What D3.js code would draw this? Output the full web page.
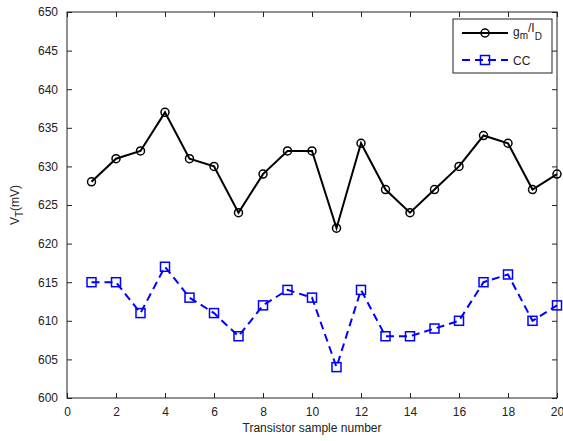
<!DOCTYPE html>
<html>
<head>
<meta charset="utf-8">
<script src="https://cdn.jsdelivr.net/npm/d3@7"></script>
<style>
  body { margin: 0; background: #fff; }
  svg text { font-family: "Liberation Sans", Arial, sans-serif; font-size: 12px; fill: #222; }
</style>
</head>
<body>
<div id="G"></div>
<script>
// data
var samples = [1, 2, 3, 4, 5, 6, 7, 8, 9, 10, 11, 12, 13, 14, 15, 16, 17, 18, 19, 20];
var gmId = [628, 631, 632, 637, 631, 630, 624, 629, 632, 632, 622, 633, 627, 624, 627, 630, 634, 633, 627, 629];
var cc = [615, 615, 611, 617, 613, 611, 608, 612, 614, 613, 604, 614, 608, 608, 609, 610, 615, 616, 610, 612];
var xTicks = [0, 2, 4, 6, 8, 10, 12, 14, 16, 18, 20];
var yTicks = [600, 605, 610, 615, 620, 625, 630, 635, 640, 645, 650];

var Border = { top: 12, right: 6, bottom: 43, left: 67 },
  width = 563 - Border.left - Border.right,
  height = 441 - Border.top - Border.bottom;

var svg = d3.select("#G")
  .append("svg")
  .attr("width", 563)
  .attr("height", 441)
  .append("g")
  .attr("transform", "translate(" + Border.left + "," + Border.top + ")");

var x = d3.scaleLinear().domain([0, 20]).range([0, width]);
var y = d3.scaleLinear().domain([600, 650]).range([height, 0]);

// axes, ticks pointing inwards (box style)
function styleAxis(g, hideText) {
  g.select(".domain").remove();
  g.selectAll(".tick line").attr("stroke", "#222");
  if (hideText) g.selectAll(".tick text").remove();
}
svg.append("g")
  .attr("transform", "translate(0," + height + ")")
  .call(d3.axisBottom(x).tickValues(xTicks).tickSizeInner(-5).tickPadding(9))
  .call(function (g) { styleAxis(g, false); g.selectAll("text").attr("font-size", 13).attr("fill", "#222"); });
svg.append("g")
  .call(d3.axisTop(x).tickValues(xTicks).tickSizeInner(-5))
  .call(function (g) { styleAxis(g, true); });
svg.append("g")
  .call(d3.axisLeft(y).tickValues(yTicks).tickSizeInner(-5).tickPadding(9))
  .call(function (g) { styleAxis(g, false); g.selectAll("text").attr("font-size", 13).attr("fill", "#222"); });
svg.append("g")
  .attr("transform", "translate(" + width + ",0)")
  .call(d3.axisRight(y).tickValues(yTicks).tickSizeInner(-5))
  .call(function (g) { styleAxis(g, true); });

svg.append("rect")
  .attr("width", width).attr("height", height)
  .attr("fill", "none").attr("stroke", "#222").attr("stroke-width", 1);

// black series with circles
var line = d3.line()
  .x(function (d, i) { return x(samples[i]) })
  .y(function (d) { return y(d) });

svg.append("path")
  .datum(gmId)
  .attr("fill", "none").attr("stroke", "#000").attr("stroke-width", 2)
  .attr("d", line);
svg.selectAll(".c")
  .data(gmId).enter().append("circle")
  .attr("cx", function (d, i) { return x(samples[i]) })
  .attr("cy", function (d) { return y(d) })
  .attr("r", 4)
  .attr("fill", "none").attr("stroke", "#000").attr("stroke-width", 1.5);

// blue dashed series with squares
svg.append("path")
  .datum(cc)
  .attr("fill", "none").attr("stroke", "#0000ff").attr("stroke-width", 2)
  .attr("stroke-dasharray", "8,5")
  .attr("d", line);
svg.selectAll(".s")
  .data(cc).enter().append("rect")
  .attr("x", function (d, i) { return x(samples[i]) - 4.5 })
  .attr("y", function (d) { return y(d) - 4.5 })
  .attr("width", 9).attr("height", 9)
  .attr("fill", "none").attr("stroke", "#0000ff").attr("stroke-width", 1.5);

// axis labels
svg.append("text")
  .attr("x", width / 2).attr("y", height + 34)
  .attr("text-anchor", "middle").attr("font-size", 13)
  .text("Transistor sample number");

var yl = svg.append("text")
  .attr("transform", "translate(" + (-48) + "," + (height / 2) + ") rotate(-90)")
  .attr("text-anchor", "middle").attr("font-size", 13);
yl.append("tspan").text("V");
yl.append("tspan").attr("dy", 4).attr("font-size", 10).text("T");
yl.append("tspan").attr("dy", -4).text("(mV)");

// legend
var lg = svg.append("g").attr("transform", "translate(" + (453 - Border.left) + "," + (19 - Border.top) + ")");
lg.append("rect").attr("width", 99).attr("height", 54)
  .attr("fill", "#fff").attr("stroke", "#222");
lg.append("line").attr("x1", 9).attr("x2", 55).attr("y1", 14).attr("y2", 14)
  .attr("stroke", "#000").attr("stroke-width", 2);
lg.append("circle").attr("cx", 32).attr("cy", 14).attr("r", 4)
  .attr("fill", "none").attr("stroke", "#000").attr("stroke-width", 1.5);
lg.append("line").attr("x1", 9).attr("x2", 55).attr("y1", 41).attr("y2", 41)
  .attr("stroke", "#0000ff").attr("stroke-width", 2).attr("stroke-dasharray", "8,5");
lg.append("rect").attr("x", 27.5).attr("y", 36.5).attr("width", 9).attr("height", 9)
  .attr("fill", "none").attr("stroke", "#0000ff").attr("stroke-width", 1.5);

var t1 = lg.append("text").attr("x", 60).attr("y", 17).attr("font-size", 13);
t1.append("tspan").text("g");
t1.append("tspan").attr("dy", 3).attr("font-size", 10).text("m");
t1.append("tspan").attr("dy", -7).text("/I");
t1.append("tspan").attr("dy", 8).attr("font-size", 10).text("D");
lg.append("text").attr("x", 60).attr("y", 46).attr("font-size", 13).text("CC");
</script>
</body>
</html>
